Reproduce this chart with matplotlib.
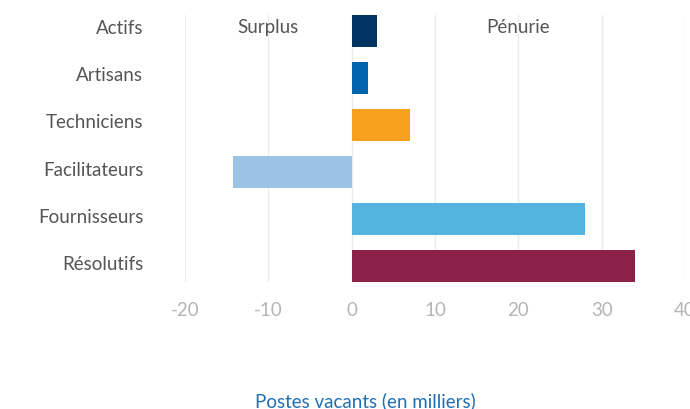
import matplotlib.pyplot as plt
import matplotlib.transforms as mtransforms

# data (thousands of vacant posts)
categories = ['Actifs', 'Artisans', 'Techniciens', 'Facilitateurs',
              'Fournisseurs', 'Résolutifs']
values = [3.0, 1.9, 7.0, -14.3, 28.0, 34.0]
colors = ['#003463', '#0063ab', '#f7a01f', '#9bc3e6', '#54b4e0', '#8b2049']
x_ticks = [-20, -10, 0, 10, 20, 30, 40]

plt.rcParams['font.family'] = ['Lato', 'DejaVu Sans']

fig = plt.figure(figsize=(6.9, 4.1), dpi=100)
ax = fig.add_axes([185 / 690, 127 / 410, 500 / 690, 267 / 410])

y_pos = list(range(len(categories)))
ax.barh(y_pos, values, height=0.68, color=colors, zorder=2)

ax.set_xlim(-20, 40)
ax.set_ylim(len(categories) - 1 + 0.34, -0.34)
ax.set_xticks(x_ticks)
ax.set_xticklabels([str(t) for t in x_ticks])
ax.set_yticks(y_pos)
ax.set_yticklabels(categories)
ax.tick_params(axis='x', length=0, pad=14, labelsize=13.5, colors='#b5b5b5')
ax.tick_params(axis='y', length=0, pad=30, labelsize=13.5, labelcolor='#555555')
for label in ax.get_xticklabels():
    label.set_clip_on(False)

# category labels sit a little above the bar centres in the original
shift_up = mtransforms.ScaledTranslation(0, 0.045, fig.dpi_scale_trans)
for label in ax.get_yticklabels():
    label.set_transform(label.get_transform() + shift_up)

ax.grid(axis='x', color='#ebebeb', linewidth=1, zorder=0)
ax.grid(axis='y', visible=False)
for spine in ax.spines.values():
    spine.set_visible(False)

ax.text(-10, -0.1, 'Surplus', ha='center', va='center', fontsize=13.5,
        color='#555555')
ax.text(20, -0.1, 'Pénurie', ha='center', va='center', fontsize=13.5,
        color='#555555')

fig.text(365 / 690, 1 - 401 / 410, 'Postes vacants (en milliers)',
         ha='center', va='center', fontsize=13.5, color='#1f6fb2')

fig.savefig('out.png', dpi=100)
